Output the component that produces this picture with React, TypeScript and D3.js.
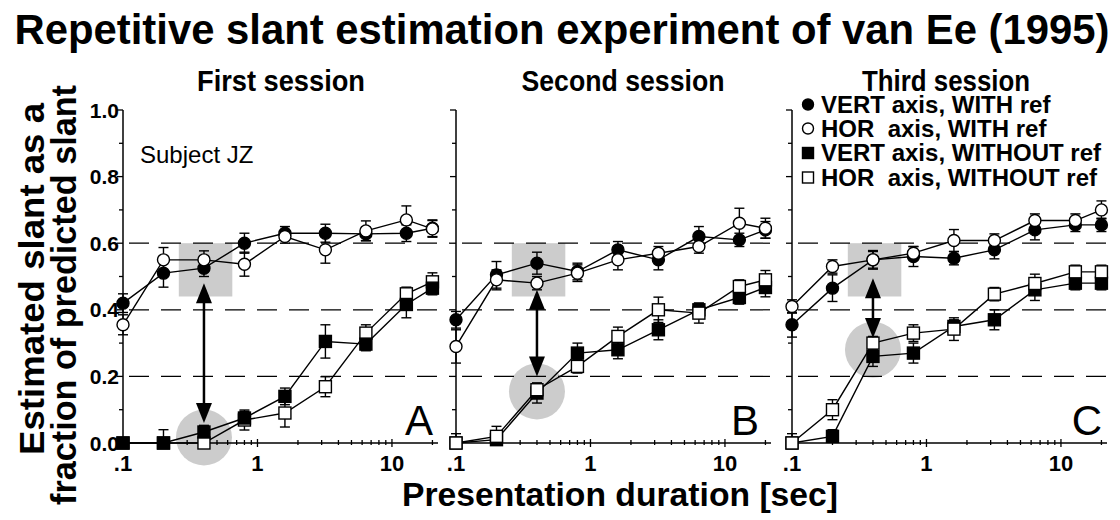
import React from "react";
import * as d3 from "d3";

const durations = [0.1, 0.2, 0.4, 0.8, 1.6, 3.2, 6.4, 12.8, 20];
const sessionTitles = ["First session", "Second session", "Third session"];
const panelLetters = ["A", "B", "C"];
const xTickLabels = [".1", "1", "10"];
const xTickValues = [0.1, 1, 10];
const yTickLabelValues = [0, 0.2, 0.4, 0.6, 0.8, 1.0];
const gridValues = [0.2, 0.4, 0.6];

const vertWithRef = [
  [0.42, 0.51, 0.525, 0.6, 0.63, 0.63, 0.628, 0.63, 0.645],
  [0.37, 0.505, 0.54, 0.515, 0.58, 0.55, 0.62, 0.61, 0.64],
  [0.355, 0.465, 0.55, 0.56, 0.555, 0.58, 0.64, 0.655, 0.655],
];
const horWithRef = [
  [0.355, 0.55, 0.55, 0.537, 0.62, 0.58, 0.637, 0.67, 0.643],
  [0.29, 0.49, 0.48, 0.51, 0.55, 0.57, 0.59, 0.66, 0.645],
  [0.41, 0.53, 0.55, 0.57, 0.608, 0.608, 0.668, 0.668, 0.7],
];
const vertWithoutRef = [
  [0.0, 0.0, 0.033, 0.075, 0.14, 0.305, 0.297, 0.416, 0.465],
  [0.0, 0.01, 0.15, 0.27, 0.28, 0.34, 0.4, 0.437, 0.467],
  [0.0, 0.02, 0.26, 0.27, 0.35, 0.37, 0.46, 0.48, 0.48],
];
const horWithoutRef = [
  [0.0, 0.0, 0.0, 0.069, 0.09, 0.169, 0.33, 0.448, 0.484],
  [0.0, 0.02, 0.16, 0.23, 0.32, 0.4, 0.39, 0.47, 0.49],
  [0.0, 0.1, 0.3, 0.33, 0.342, 0.447, 0.479, 0.514, 0.514],
];

const vertWithRefErr = [
  [0.028, 0.042, 0.025, 0.03, 0.02, 0.027, 0.02, 0.025, 0.025],
  [0.025, 0.04, 0.033, 0.025, 0.025, 0.03, 0.03, 0.02, 0.025],
  [0.037, 0.04, 0.025, 0.03, 0.02, 0.027, 0.03, 0.02, 0.02],
];
const horWithRefErr = [
  [0.03, 0.037, 0.027, 0.036, 0.02, 0.04, 0.03, 0.042, 0.025],
  [0.05, 0.03, 0.02, 0.025, 0.03, 0.02, 0.02, 0.045, 0.03],
  [0.02, 0.02, 0.028, 0.02, 0.033, 0.02, 0.02, 0.02, 0.027],
];
const vertWithoutRefErr = [
  [0.0, 0.04, 0.02, 0.02, 0.025, 0.05, 0.02, 0.04, 0.02],
  [0.0, 0.01, 0.03, 0.03, 0.027, 0.03, 0.02, 0.02, 0.028],
  [0.0, 0.02, 0.03, 0.03, 0.02, 0.03, 0.032, 0.02, 0.02],
];
const horWithoutRefErr = [
  [0.0, 0.0, 0.0, 0.03, 0.042, 0.03, 0.025, 0.02, 0.027],
  [0.028, 0.03, 0.02, 0.02, 0.028, 0.038, 0.03, 0.02, 0.028],
  [0.028, 0.03, 0.02, 0.025, 0.034, 0.02, 0.028, 0.02, 0.02],
];

// highlighted comparison at 0.4 s
const highlightDuration = 0.4;
const highlightRectX = [0.26, 0.65];
const highlightRectY = [0.44, 0.6];
const arrowTop = [0.48, 0.46, 0.495];
const arrowBottom = [0.06, 0.2, 0.315];

const legendLabels = [
  "VERT axis, WITH ref",
  "HOR  axis, WITH ref",
  "VERT axis, WITHOUT ref",
  "HOR  axis, WITHOUT ref",
];

const FONT = "'Liberation Sans', Arial, Helvetica, sans-serif";
const panelLeft = [123, 456, 792];
const panelWidth = 315;
const sessionTitleCenter = [281, 623, 946];
const sessionTitleWidth = [168, 203, 168];
const yScale = d3.scaleLinear().domain([0, 1]).range([443, 110]);

function Marker({ x, y, kind, size }: { x: number; y: number; kind: string; size: number }) {
  const filled = kind === "fc" || kind === "fs";
  const fill = filled ? "#000" : "#fff";
  if (kind === "fc" || kind === "oc") {
    return <circle cx={x} cy={y} r={size / 2} fill={fill} stroke="#000" strokeWidth={1.4} />;
  }
  return (
    <rect x={x - size / 2} y={y - size / 2} width={size} height={size} fill={fill} stroke="#000" strokeWidth={1.4} />
  );
}

function Panel({ i }: { i: number }) {
  const x0 = panelLeft[i];
  const xScale = d3.scaleLog().domain([0.1, 22]).range([x0, x0 + panelWidth]);
  const line = d3
    .line<number>()
    .x((_, k) => xScale(durations[k]))
    .y((v) => yScale(v));

  const series = [
    { vals: vertWithRef[i], errs: vertWithRefErr[i], kind: "fc" },
    { vals: horWithRef[i], errs: horWithRefErr[i], kind: "oc" },
    i === 0
      ? { vals: horWithoutRef[i], errs: horWithoutRefErr[i], kind: "os" }
      : { vals: vertWithoutRef[i], errs: vertWithoutRefErr[i], kind: "fs" },
    i === 0
      ? { vals: vertWithoutRef[i], errs: vertWithoutRefErr[i], kind: "fs" }
      : { vals: horWithoutRef[i], errs: horWithoutRefErr[i], kind: "os" },
  ];

  const hIdx = durations.indexOf(highlightDuration);
  const hx = xScale(highlightDuration);
  const circY = yScale((vertWithoutRef[i][hIdx] + horWithoutRef[i][hIdx]) / 2);
  const aTop = yScale(arrowTop[i]);
  const aBot = yScale(arrowBottom[i]);
  const ah = 20;
  const aw = 8;

  const yTicks = d3.range(0, 11).map((k) => k / 10);
  const xTicks = xScale.ticks();

  return (
    <g>
      {/* gray highlights */}
      <rect
        x={xScale(highlightRectX[0])}
        y={yScale(highlightRectY[1])}
        width={xScale(highlightRectX[1]) - xScale(highlightRectX[0])}
        height={yScale(highlightRectY[0]) - yScale(highlightRectY[1])}
        fill="#cccccc"
      />
      <circle cx={hx} cy={circY} r={28} fill="#cccccc" />
      {/* grid */}
      {gridValues.map((g) => (
        <line
          key={g}
          x1={x0}
          x2={x0 + panelWidth + (i === 0 ? 12 : 0)}
          y1={yScale(g)}
          y2={yScale(g)}
          stroke="#000"
          strokeWidth={1.2}
          strokeDasharray="20,12"
          strokeDashoffset={-6}
        />
      ))}
      {/* axes */}
      <line x1={x0} x2={x0} y1={yScale(0)} y2={yScale(1)} stroke="#000" strokeWidth={1.5} />
      <line x1={x0} x2={x0 + panelWidth} y1={yScale(0)} y2={yScale(0)} stroke="#000" strokeWidth={1.5} />
      {yTicks.map((t, k) => (
        <line
          key={"yt" + k}
          x1={x0 - (k % 2 === 0 ? 6 : 4)}
          x2={x0}
          y1={yScale(t)}
          y2={yScale(t)}
          stroke="#000"
          strokeWidth={1.3}
        />
      ))}
      {xTicks.map((t, k) => {
        const major = xTickValues.some((m) => Math.abs(m - t) < 1e-9);
        return (
          <line
            key={"xt" + k}
            x1={xScale(t)}
            x2={xScale(t)}
            y1={yScale(0) - (major ? 4 : 3)}
            y2={yScale(0) + (major ? 4 : 2)}
            stroke="#000"
            strokeWidth={1.3}
          />
        );
      })}
      {xTickValues.map((t, k) => (
        <text
          key={"xl" + k}
          x={xScale(t)}
          y={471}
          textAnchor="middle"
          fontFamily={FONT}
          fontWeight="bold"
          fontSize={22}
        >
          {xTickLabels[k]}
        </text>
      ))}
      {i === 0 &&
        yTickLabelValues.map((t) => (
          <text
            key={"yl" + t}
            x={x0 - 4}
            y={yScale(t) + 7.5}
            textAnchor="end"
            fontFamily={FONT}
            fontWeight="bold"
            fontSize={21}
          >
            {d3.format(".1f")(t)}
          </text>
        ))}
      {/* lines */}
      {series.map((s, k) => (
        <path key={"l" + k} d={line(s.vals) || ""} fill="none" stroke="#000" strokeWidth={1.4} />
      ))}
      {/* error bars */}
      {series.map((s, k) =>
        s.vals.map((v, j) => {
          const e = s.errs[j];
          if (!e) return null;
          const x = xScale(durations[j]);
          const lo = yScale(Math.max(0, v - e));
          const hi = yScale(v + e);
          return (
            <g key={"e" + k + "-" + j} stroke="#000" strokeWidth={1.4}>
              <line x1={x} x2={x} y1={lo} y2={hi} />
              <line x1={x - 5} x2={x + 5} y1={hi} y2={hi} />
              {v - e > 0 && <line x1={x - 5} x2={x + 5} y1={lo} y2={lo} />}
            </g>
          );
        })
      )}
      {/* markers */}
      {series.map((s, k) =>
        s.vals.map((v, j) => (
          <Marker key={"m" + k + "-" + j} x={xScale(durations[j])} y={yScale(v)} kind={s.kind} size={12} />
        ))
      )}
      {/* double arrow */}
      <line x1={hx} x2={hx} y1={aTop + ah - 2} y2={aBot - ah + 2} stroke="#000" strokeWidth={2.5} />
      <path d={`M${hx},${aTop} L${hx - aw},${aTop + ah} L${hx + aw},${aTop + ah} Z`} fill="#000" />
      <path d={`M${hx},${aBot} L${hx - aw},${aBot - ah} L${hx + aw},${aBot - ah} Z`} fill="#000" />
      {/* session title */}
      <text
        x={sessionTitleCenter[i]}
        y={91}
        textAnchor="middle"
        fontFamily={FONT}
        fontWeight="bold"
        fontSize={29}
        textLength={sessionTitleWidth[i]}
        lengthAdjust="spacingAndGlyphs"
      >
        {sessionTitles[i]}
      </text>
      {/* panel letter */}
      <text
        x={x0 + panelWidth - (i === 1 ? 12 : 5)}
        y={435}
        textAnchor="end"
        fontFamily={FONT}
        fontSize={42}
      >
        {panelLetters[i]}
      </text>
    </g>
  );
}

function Legend() {
  const kinds = ["fc", "oc", "fs", "os"];
  const rowY = [104.5, 128.5, 153, 177.5];
  return (
    <g>
      {legendLabels.map((lab, k) => (
        <g key={k}>
          <Marker x={808} y={rowY[k]} kind={kinds[k]} size={11} />
          <text
            x={821}
            y={rowY[k] + 8}
            fontFamily={FONT}
            fontWeight="bold"
            fontSize={24}
            style={{ whiteSpace: "pre" }}
            xmlSpace="preserve"
          >
            {lab}
          </text>
        </g>
      ))}
    </g>
  );
}

export default function App() {
  return (
    <svg
      width={1120}
      height={520}
      viewBox="0 0 1120 520"
      style={{ position: "absolute", left: 0, top: 0, background: "#fff" }}
    >
      <rect width={1120} height={520} fill="#fff" />
      <text
        x={562}
        y={44}
        textAnchor="middle"
        fontFamily={FONT}
        fontWeight="bold"
        fontSize={42}
        textLength={1095}
        lengthAdjust="spacingAndGlyphs"
      >
        Repetitive slant estimation experiment of van Ee (1995)
      </text>
      {[0, 1, 2].map((i) => (
        <Panel key={i} i={i} />
      ))}
      <Legend />
      <text x={140} y={163} fontFamily={FONT} fontSize={24}>
        Subject JZ
      </text>
      <text
        transform="translate(44,279) rotate(-90)"
        textAnchor="middle"
        fontFamily={FONT}
        fontWeight="bold"
        fontSize={35}
        textLength={352}
        lengthAdjust="spacingAndGlyphs"
      >
        Estimated slant as a
      </text>
      <text
        transform="translate(76,295) rotate(-90)"
        textAnchor="middle"
        fontFamily={FONT}
        fontWeight="bold"
        fontSize={35}
        textLength={420}
        lengthAdjust="spacingAndGlyphs"
      >
        fraction of predicted slant
      </text>
      <text
        x={620}
        y={506}
        textAnchor="middle"
        fontFamily={FONT}
        fontWeight="bold"
        fontSize={33}
        textLength={436}
        lengthAdjust="spacingAndGlyphs"
      >
        Presentation duration [sec]
      </text>
    </svg>
  );
}
